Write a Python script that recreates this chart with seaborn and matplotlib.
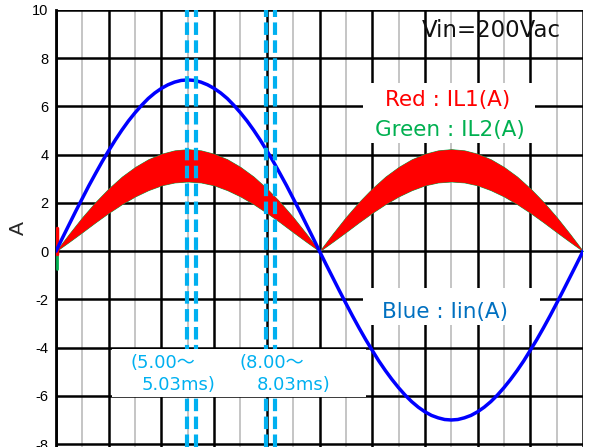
import matplotlib
matplotlib.use("Agg")
import matplotlib.pyplot as plt
from matplotlib.patches import Rectangle
import seaborn as sns
import pandas as pd

# ---- data ----
# input current Iin (blue), sampled every 0.25 ms
t_blue = [i * 0.25 for i in range(81)]
iin_blue = [0.0, 0.56, 1.11, 1.66, 2.19, 2.72, 3.22, 3.71, 4.17, 4.61,
            5.02, 5.40, 5.74, 6.05, 6.33, 6.56, 6.75, 6.90, 7.01, 7.08, 7.10,
            7.08, 7.01, 6.90, 6.75, 6.56, 6.33, 6.05, 5.74, 5.40, 5.02,
            4.61, 4.17, 3.71, 3.22, 2.72, 2.19, 1.66, 1.11, 0.56, 0.0,
            -0.55, -1.09, -1.63, -2.16, -2.68, -3.18, -3.66, -4.11, -4.55,
            -4.95, -5.32, -5.66, -5.97, -6.24, -6.47, -6.66, -6.81, -6.91, -6.98, -7.00,
            -6.98, -6.91, -6.81, -6.66, -6.47, -6.24, -5.97, -5.66, -5.32, -4.95,
            -4.55, -4.11, -3.66, -3.18, -2.68, -2.16, -1.63, -1.09, -0.55, 0.0]

# IL1 ripple band (red), upper / lower envelope every 0.5 ms
t_ms = [0.0, 0.5, 1.0, 1.5, 2.0, 2.5, 3.0, 3.5, 4.0, 4.5, 5.0,
        5.5, 6.0, 6.5, 7.0, 7.5, 8.0, 8.5, 9.0, 9.5, 10.0,
        10.5, 11.0, 11.5, 12.0, 12.5, 13.0, 13.5, 14.0, 14.5, 15.0,
        15.5, 16.0, 16.5, 17.0, 17.5, 18.0, 18.5, 19.0, 19.5, 20.0]

il1_upper = [0.0, 0.72, 1.41, 2.04, 2.60, 3.09, 3.49, 3.81, 4.04, 4.18, 4.23,
             4.18, 4.04, 3.81, 3.49, 3.09, 2.60, 2.04, 1.41, 0.72, 0.0,
             0.72, 1.41, 2.04, 2.60, 3.09, 3.49, 3.81, 4.04, 4.18, 4.23,
             4.18, 4.04, 3.81, 3.49, 3.09, 2.60, 2.04, 1.41, 0.72, 0.0]

il1_lower = [0.0, 0.39, 0.79, 1.20, 1.59, 1.95, 2.27, 2.53, 2.73, 2.85, 2.89,
             2.85, 2.73, 2.53, 2.27, 1.95, 1.59, 1.20, 0.79, 0.39, 0.0,
             0.39, 0.79, 1.20, 1.59, 1.95, 2.27, 2.53, 2.73, 2.85, 2.89,
             2.85, 2.73, 2.53, 2.27, 1.95, 1.59, 1.20, 0.79, 0.39, 0.0]

# start-up spikes at t ~ 0
spike_t = [0.05, 0.05]
spike_red = [-0.1, 0.95]
spike_green = [0.0, -0.75]

# dashed markers (drawn expanded for visibility)
marker_t = [4.97, 5.31, 7.97, 8.31]

y_ticks = [-8, -6, -4, -2, 0, 2, 4, 6, 8, 10]

df = pd.DataFrame({"t": t_blue, "iin": iin_blue})

# ---- figure ----
sns.set_style("white")
plt.rcParams['font.family'] = ['Liberation Sans', 'DejaVu Sans']
plt.rcParams['axes.unicode_minus'] = False

fig = plt.figure(figsize=(5.89, 4.47), dpi=100)
ax = fig.add_axes([56 / 589, 0.0, 527 / 589, 437 / 447])

# IL2 (green, mostly hidden) and IL1 (red band)
ax.fill_between(t_ms, il1_lower, il1_upper, color='#00b050', lw=0.6,
                edgecolor='#00b050', zorder=2)
ax.fill_between(t_ms, il1_lower, il1_upper, color='#ff0000', lw=0, zorder=3)
ax.plot(spike_t, spike_green, color='#00b050', lw=2, zorder=3)
ax.plot(spike_t, spike_red, color='#ff0000', lw=2.5, zorder=3)

# Iin (blue)
sns.lineplot(data=df, x="t", y="iin", ax=ax, color='#0000ff', lw=2.5,
             zorder=4, legend=False)

ax.set_xlim(0, 20)
ax.set_ylim(-8.12, 10)

# grid
ax.set_xticks(range(0, 21, 2))
ax.set_xticks(range(1, 20, 2), minor=True)
ax.set_yticks(y_ticks)
ax.set_yticklabels([str(v) for v in y_ticks])
ax.grid(which='major', axis='both', color='black', lw=1.8, zorder=0)
ax.grid(which='minor', axis='x', color='#c0c0c0', lw=1.3, zorder=0)
ax.set_axisbelow(True)
ax.tick_params(axis='x', which='both', length=0, labelbottom=False)
ax.tick_params(axis='y', which='major', length=4.5, width=1.5, color='black',
               direction='out', pad=1, labelsize=10.5, labelcolor='black')
for s in ['top', 'right', 'bottom']:
    ax.spines[s].set_visible(False)
ax.spines['left'].set_color('black')
ax.spines['left'].set_linewidth(2)
ax.set_xlabel("")
ax.set_ylabel("A", fontsize=15, labelpad=3)

# dashed markers
for xm in marker_t:
    ax.axvline(xm, color='#00b0f0', lw=3, dashes=(3, 1.3), zorder=5)

# white boxes
def box(x0, x1, y0, y1):
    ax.add_patch(Rectangle((x0, y0), x1 - x0, y1 - y0, facecolor='white',
                           edgecolor='none', zorder=6))

box(11.65, 18.18, 4.49, 6.97)      # Red / Green legend
box(11.65, 18.37, -3.06, -1.53)    # Blue legend
box(2.13, 11.75, -6.06, -4.05)     # time labels

jp = ['DejaVu Sans', 'Noto Sans CJK JP']
ax.text(16.51, 9.17, "Vin=200Vac", fontsize=16.5, family=jp, color='#111111',
        ha='center', va='center', zorder=7)
ax.text(14.88, 6.27, "Red : IL1(A)", fontsize=15.5, family=jp, color='#ff0000',
        ha='center', va='center', zorder=7)
ax.text(14.95, 5.02, "Green : IL2(A)", fontsize=15.5, family=jp, color='#00b050',
        ha='center', va='center', zorder=7)
ax.text(14.78, -2.52, "Blue : Iin(A)", fontsize=15.5, family=jp, color='#0070c0',
        ha='center', va='center', zorder=7)

cy = '#00b0f0'
ax.text(2.81, -4.63, "(5.00～", fontsize=13, family=jp, color=cy,
        ha='left', va='center', zorder=7)
ax.text(3.26, -5.55, "5.03ms)", fontsize=13, family=jp, color=cy,
        ha='left', va='center', zorder=7)
ax.text(6.98, -4.63, "(8.00～", fontsize=13, family=jp, color=cy,
        ha='left', va='center', zorder=7)
ax.text(7.62, -5.55, "8.03ms)", fontsize=13, family=jp, color=cy,
        ha='left', va='center', zorder=7)

fig.savefig("out.png", dpi=100)
